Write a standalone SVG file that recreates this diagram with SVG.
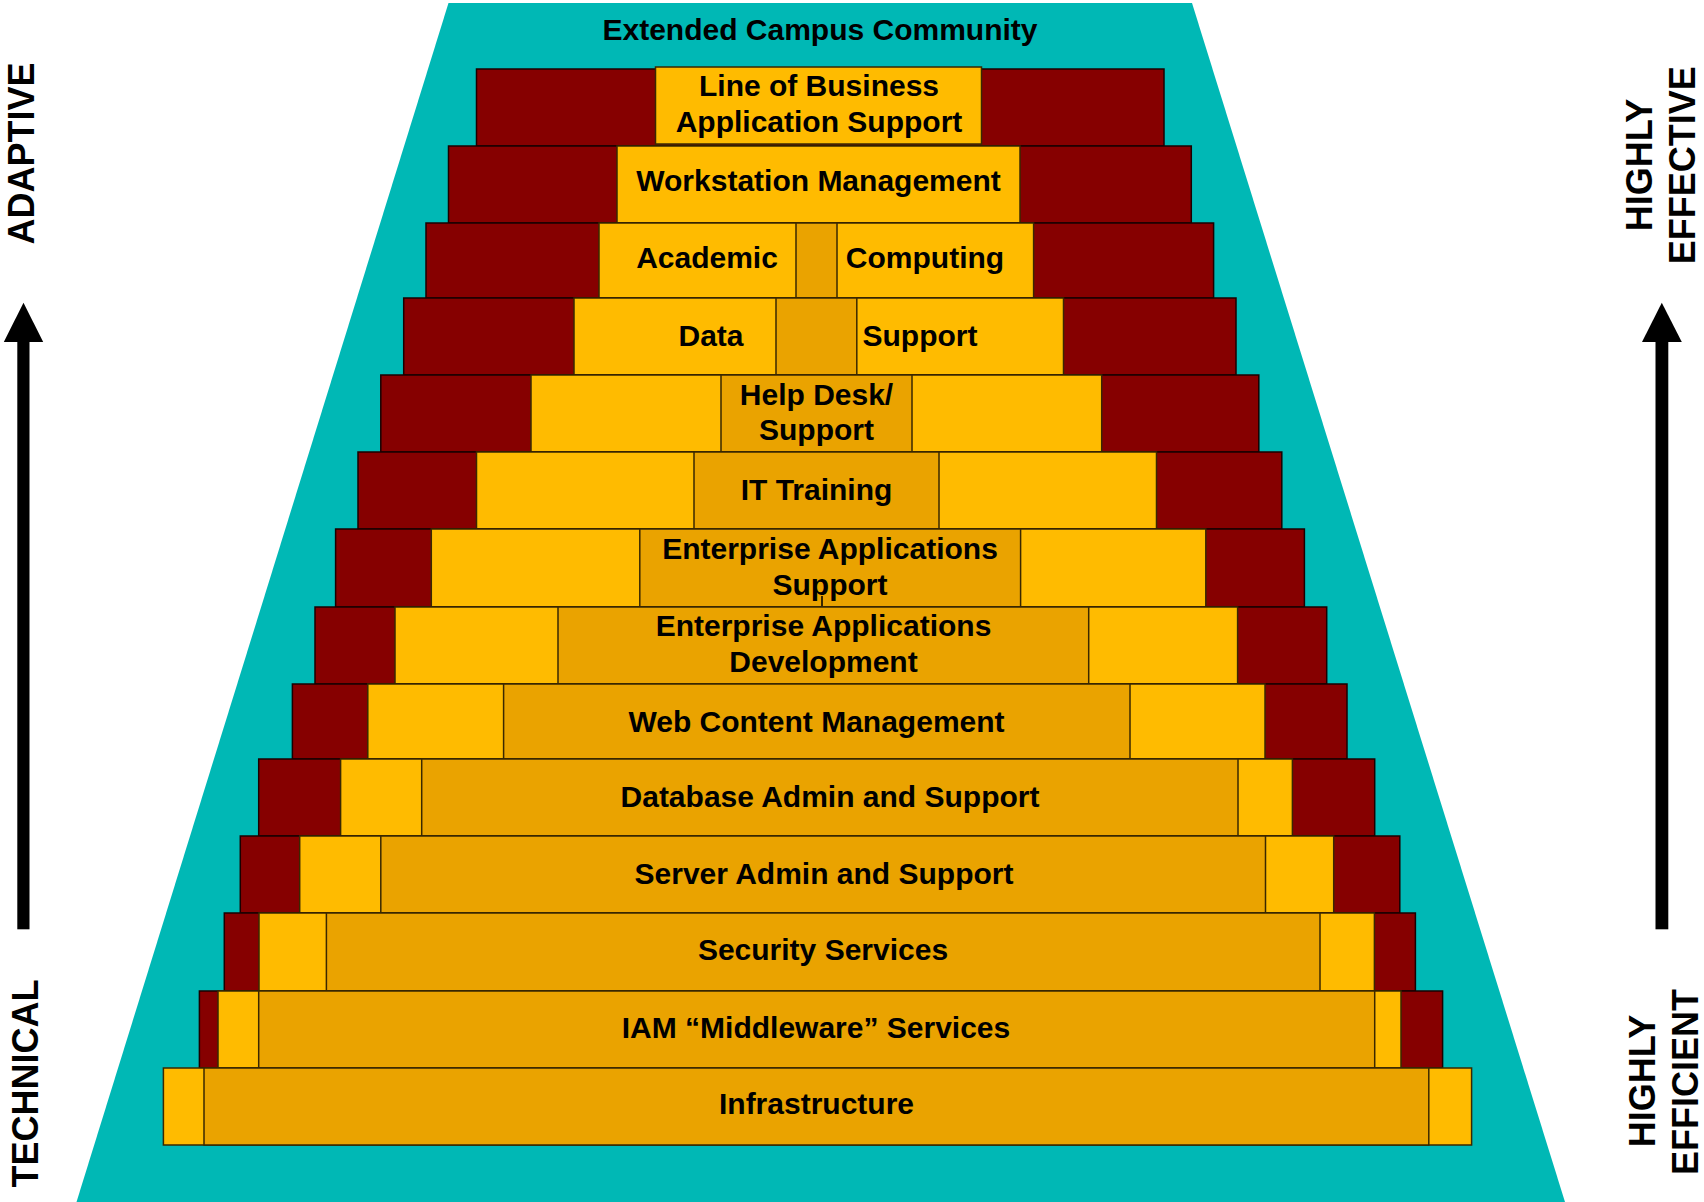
<svg xmlns="http://www.w3.org/2000/svg" width="1704" height="1202" viewBox="0 0 1704 1202">
<style>
.red{fill:#860000;stroke:#1a0000;stroke-width:1.5}
.yel{fill:#FFBB00;stroke:#3a2800;stroke-width:1.5}
.org{fill:#EAA300;stroke:#3a2800;stroke-width:1.5}
.lbl{font-family:"Liberation Sans",Arial,sans-serif;font-weight:bold;font-size:30px;fill:#000;text-anchor:middle}
.side{font-family:"Liberation Sans",Arial,sans-serif;font-weight:bold;font-size:36px;fill:#000;text-anchor:middle}
</style>
<rect width="1704" height="1202" fill="#fff"/>
<g id="community">
<polygon points="448.5,3 1192,3 1565,1202 76.5,1202" fill="#00B8B5"/>
<text class="lbl" x="820" y="40">Extended Campus Community</text>
</g>
<g id="row-lob">
<rect class="red" x="476.5" y="69" width="687.5" height="77"/>
<rect class="yel" x="655.5" y="67" width="326" height="77"/>
<text class="lbl" x="819" y="96">Line of Business</text>
<text class="lbl" x="819" y="132">Application Support</text>
</g>
<g id="row-workstation">
<rect class="red" x="448.5" y="146" width="742.8" height="77"/>
<rect class="yel" x="617" y="146" width="403" height="77"/>
<text class="lbl" x="818.5" y="191">Workstation Management</text>
</g>
<g id="row-academic">
<rect class="red" x="426" y="223" width="787.6" height="75"/>
<rect class="yel" x="599" y="223" width="434.6" height="75"/>
<rect class="org" x="796" y="223" width="41" height="75"/>
<text class="lbl" x="707" y="268">Academic</text>
<text class="lbl" x="925" y="268">Computing</text>
</g>
<g id="row-data">
<rect class="red" x="403.7" y="298" width="832.3" height="77"/>
<rect class="yel" x="574" y="298" width="489.5" height="77"/>
<rect class="org" x="776" y="298" width="80.8" height="77"/>
<text class="lbl" x="711" y="346">Data</text>
<text class="lbl" x="920" y="346">Support</text>
</g>
<g id="row-helpdesk">
<rect class="red" x="380.8" y="375" width="878" height="77"/>
<rect class="yel" x="531" y="375" width="570.7" height="77"/>
<rect class="org" x="721" y="375" width="191" height="77"/>
<text class="lbl" x="816.5" y="405">Help Desk/</text>
<text class="lbl" x="816.5" y="440">Support</text>
</g>
<g id="row-ittraining">
<rect class="red" x="358" y="452" width="923.8" height="77"/>
<rect class="yel" x="476.5" y="452" width="680" height="77"/>
<rect class="org" x="694" y="452" width="245" height="77"/>
<text class="lbl" x="816.5" y="499.5">IT Training</text>
</g>
<g id="row-eas">
<rect class="red" x="335.6" y="529" width="968.8" height="78"/>
<rect class="yel" x="431.3" y="529" width="774.5" height="78"/>
<rect class="org" x="639.8" y="529" width="380.8" height="78"/>
<line x1="822" y1="596" x2="822" y2="607" stroke="#3a2800" stroke-width="2"/>
<text class="lbl" x="830" y="558.5">Enterprise Applications</text>
<text class="lbl" x="830" y="595">Support</text>
</g>
<g id="row-ead">
<rect class="red" x="315" y="607" width="1011.7" height="77"/>
<rect class="yel" x="395" y="607" width="842.6" height="77"/>
<rect class="org" x="558" y="607" width="530.7" height="77"/>
<text class="lbl" x="823.5" y="636">Enterprise Applications</text>
<text class="lbl" x="823.5" y="672">Development</text>
</g>
<g id="row-web">
<rect class="red" x="292.4" y="684" width="1054.6" height="75"/>
<rect class="yel" x="367.8" y="684" width="897.2" height="75"/>
<rect class="org" x="503.6" y="684" width="626.4" height="75"/>
<text class="lbl" x="816.5" y="732">Web Content Management</text>
</g>
<g id="row-database">
<rect class="red" x="258.7" y="759" width="1116" height="77"/>
<rect class="yel" x="340.6" y="759" width="951.8" height="77"/>
<rect class="org" x="421.7" y="759" width="816.3" height="77"/>
<text class="lbl" x="830" y="806.5">Database Admin and Support</text>
</g>
<g id="row-server">
<rect class="red" x="240.3" y="836" width="1159.5" height="77"/>
<rect class="yel" x="299.7" y="836" width="1034" height="77"/>
<rect class="org" x="380.8" y="836" width="884.7" height="77"/>
<text class="lbl" x="824" y="883.5">Server Admin and Support</text>
</g>
<g id="row-security">
<rect class="red" x="224.3" y="913" width="1191.1" height="78"/>
<rect class="yel" x="259" y="913" width="1115.4" height="78"/>
<rect class="org" x="326.4" y="913" width="993.6" height="78"/>
<text class="lbl" x="823" y="960">Security Services</text>
</g>
<g id="row-iam">
<rect class="red" x="199.4" y="991" width="1243.2" height="77"/>
<rect class="yel" x="218" y="991" width="1183" height="77"/>
<rect class="org" x="258.7" y="991" width="1116" height="77"/>
<text class="lbl" x="816" y="1037.5">IAM “Middleware” Services</text>
</g>
<g id="row-infrastructure">
<rect class="yel" x="163.4" y="1068" width="1308.2" height="77"/>
<rect class="org" x="204" y="1068" width="1224.8" height="77"/>
<text class="lbl" x="816.5" y="1113.5">Infrastructure</text>
</g>
<g id="connectors">
<polygon points="23.5,302.7 43.2,342 3.8,342" fill="#000"/>
<rect x="17.3" y="340" width="12.2" height="589.3" fill="#000"/>
<polygon points="1661.8,302.7 1681.8,342 1642,342" fill="#000"/>
<rect x="1655.5" y="340" width="12.8" height="589.3" fill="#000"/>
</g>
<g id="labels">
<text class="side" transform="translate(34.4,153.4) rotate(-90)">ADAPTIVE</text>
<text class="side" transform="translate(38.3,1083.5) rotate(-90)">TECHNICAL</text>
<text class="side" transform="translate(1651.8,165) rotate(-90)">HIGHLY</text>
<text class="side" transform="translate(1695.2,165.3) rotate(-90)">EFFECTIVE</text>
<text class="side" transform="translate(1654.6,1081) rotate(-90)">HIGHLY</text>
<text class="side" transform="translate(1697.7,1082) rotate(-90)">EFFICIENT</text>
</g>
</svg>
